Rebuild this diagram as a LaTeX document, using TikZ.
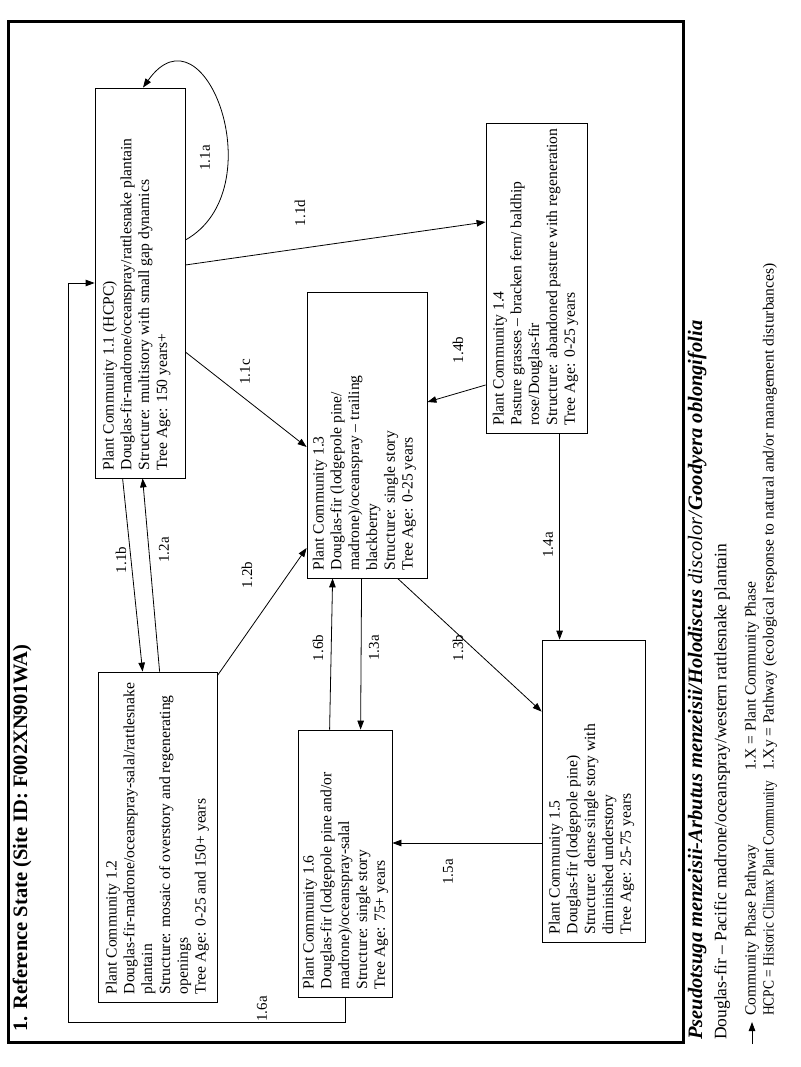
\documentclass[tikz,border=0pt]{standalone}
\usepackage{fontspec}
\usepackage{graphicx}
\setmainfont{Liberation Serif}
\usetikzlibrary{arrows.meta,calc}
\begin{document}
\begin{tikzpicture}[x=1pt,y=1pt,
  box/.style={draw, line width=0.8pt, inner sep=0, rectangle},
  btxt/.style={rotate=90, anchor=north west, align=left, inner sep=0, font=\fontsize{15.6}{17.8}\selectfont},
  lbl/.style={rotate=90, inner sep=0, font=\fontsize{15}{17}\selectfont},
  legt/.style={rotate=90, anchor=west, inner sep=0, font=\fontsize{15.5}{18}\selectfont},
  arr/.style={line width=0.8pt, -{Triangle[length=9pt,width=6.5pt]}}]
\useasboundingbox (0,0) rectangle (800,-1067);
\fill[white] (0,0) rectangle (800,-1067);
\draw[line width=3pt] (8,-22) rectangle (683,-1042);
\node[rotate=90, anchor=west, inner sep=0, font=\fontsize{20.5}{24}\selectfont\bfseries] (title) at (22,-1032) {1. Reference State (Site ID: F002XN901WA)};
% boxes
\node[box, minimum width=90, minimum height=390] (n11) at (140,-283) {};
\node[box, minimum width=119, minimum height=330] (n12) at (157.5,-837) {};
\node[box, minimum width=120, minimum height=286] (n13) at (367,-435) {};
\node[box, minimum width=101, minimum height=310] (n14) at (536.5,-278) {};
\node[box, minimum width=103, minimum height=302] (n15) at (593.5,-791) {};
\node[box, minimum width=94, minimum height=267] (n16) at (345,-863.5) {};
% texts
\node[btxt] (t11) at ([shift={(8,8)}]n11.south west) {Plant Community 1.1 (HCPC)\\Douglas-fir-madrone/oceanspray/rattlesnake plantain\\Structure: multistory with small gap dynamics\\Tree Age: 150 years+};
\node[btxt] (t12) at ([shift={(8,8)}]n12.south west) {Plant Community 1.2\\Douglas-fir-madrone/oceanspray-salal/rattlesnake\\plantain\\Structure: mosaic of overstory and regenerating\\openings\\Tree Age: 0-25 and 150+ years};
\node[btxt] (t13) at ([shift={(6,8)}]n13.south west) {Plant Community 1.3\\Douglas-fir (lodgepole pine/\\madrone)/oceanspray – trailing\\blackberry\\Structure: single story\\Tree Age: 0-25 years};
\node[btxt] (t14) at ([shift={(7,8)}]n14.south west) {Plant Community 1.4\\Pasture grasses – bracken fern/ baldhip\\rose/Douglas-fir\\Structure: abandoned pasture with regeneration\\Tree Age: 0-25 years};
\node[btxt] (t15) at ([shift={(7,8)}]n15.south west) {Plant Community 1.5\\Douglas-fir (lodgepole pine)\\Structure: dense single story with\\diminished understory\\Tree Age: 25-75 years};
\node[btxt] (t16) at ([shift={(5,8)}]n16.south west) {Plant Community 1.6\\Douglas-fir (lodgepole pine and/or\\madrone)/oceanspray-salal\\Structure: single story\\Tree Age: 75+ years};
% connectors
\draw[arr] ([yshift=43]n11.east) .. controls (275,-190) and (205,0) .. ([xshift=3]n11.north);
\node[lbl] (l1a) at (205,-158) {1.1a};
\draw[arr] ([xshift=28]n11.south west) -- ([xshift=45]n12.north west);
\node[lbl] (l1b) at (121,-560) {1.1b};
\draw[arr] ([xshift=62]n12.north west) -- ([xshift=48]n11.south west);
\node[lbl] (l2a) at (164,-550) {1.2a};
\draw[arr] ([yshift=-69]n11.east) -- ([yshift=-12]n13.west);
\node[lbl] (l1c) at (245,-372) {1.1c};
\draw[arr] ([yshift=18]n11.east) -- ([yshift=56]n14.west);
\node[lbl] (l1d) at (300,-213) {1.1d};
\draw[arr] ([yshift=-107]n14.west) -- ([yshift=33]n13.east);
\node[lbl] (l4b) at (458,-350) {1.4b};
\draw[arr] ([xshift=74]n14.south west) -- ([xshift=18]n15.north west);
\node[lbl] (l4a) at (548,-545) {1.4a};
\draw[arr] ([yshift=-4]n12.north east) -- ([yshift=-113]n13.west);
\node[lbl] (l2b) at (247,-575) {1.2b};
\draw[arr] ([xshift=32]n16.north west) -- ([xshift=26]n13.south west);
\node[lbl] (l6b) at (318,-648) {1.6b};
\draw[arr] ([xshift=55]n13.south west) -- ([xshift=63]n16.north west);
\node[lbl] (l3a) at (374,-648) {1.3a};
\draw[arr] ([xshift=91]n13.south west) -- ([yshift=-72]n15.north west);
\node[lbl] (l3b) at (458,-648) {1.3b};
\draw[arr] ([yshift=-52]n15.west) -- ([yshift=20.5]n16.east);
\node[lbl] (l5a) at (448,-872) {1.5a};
\coordinate (c6a) at (68,-1022);
\draw[arr] (n16.south) |- (c6a) |- (n11.west);
\node[lbl] (l6a) at (262,-1009) {1.6a};
% legend
\node[rotate=90, anchor=west, inner sep=0, font=\fontsize{20.5}{24}\selectfont] (sp) at (697,-1040) {\textbf{\textit{Pseudotsuga menzeisii-Arbutus menzeisii/Holodiscus }}\textit{discolor/}\textbf{\textit{Goodyera oblongifolia}}};
\node[rotate=90, anchor=west, inner sep=0, font=\fontsize{17.5}{20}\selectfont] (cn) at (722,-1040) {Douglas-fir – Pacific madrone/oceanspray/western rattlesnake plantain};
\coordinate (lga) at (752,-1044);
\coordinate (lgb) at (752,-1022);
\draw[arr] (lga) -- (lgb);
\node[legt] (lg1) at (752,-1016) {Community Phase Pathway};
\node[legt] (lg2) at (770,-1016) {\scalebox{0.87}[1]{HCPC = Historic Climax Plant Community}};
\node[legt] (lg3) at (752,-771) {1.X = Plant Community Phase};
\node[legt] (lg4) at (770,-771) {1.Xy = Pathway (ecological response to natural and/or management disturbances)};
\end{tikzpicture}
\end{document}
